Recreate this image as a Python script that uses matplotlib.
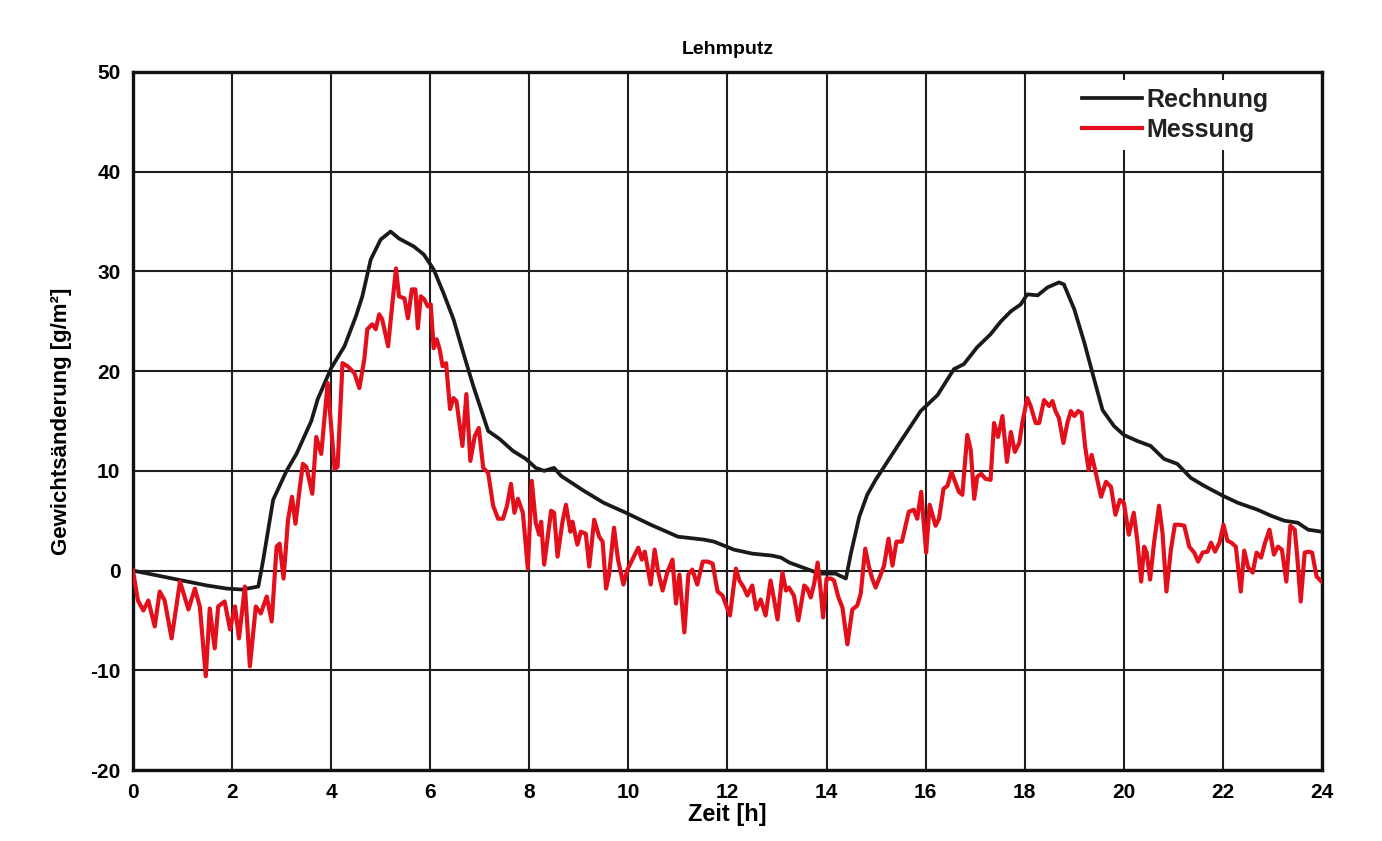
import matplotlib
matplotlib.use('Agg')
import matplotlib.pyplot as plt

plt.rcParams["font.family"] = ["Liberation Sans", "DejaVu Sans"]
plt.rcParams["font.weight"] = "bold"
plt.rcParams["axes.unicode_minus"] = False

# Rechnung (black curve)
calc_t = [0.0, 0.5, 1.0, 1.5, 1.89, 2.2, 2.53, 2.63, 2.83, 3.1, 3.3, 3.6, 3.73, 4.0,
          4.27, 4.5, 4.63, 4.8, 5.0, 5.2, 5.37, 5.67, 5.87, 6.07, 6.27, 6.47, 6.67,
          6.87, 7.07, 7.17, 7.4, 7.67, 7.93, 8.13, 8.3, 8.5, 8.64, 9.1, 9.5, 9.95,
          10.45, 11.0, 11.53, 11.73, 12.13, 12.5, 12.9, 13.08, 13.25, 13.58, 13.85,
          14.18, 14.39, 14.49, 14.66, 14.82, 14.99, 15.5, 15.9, 16.24, 16.57, 16.77,
          17.04, 17.31, 17.52, 17.72, 17.92, 18.05, 18.26, 18.46, 18.69, 18.79, 19.0,
          19.2, 19.4, 19.57, 19.8, 20.0, 20.27, 20.54, 20.81, 21.08, 21.35, 21.62,
          22.0, 22.3, 22.7, 22.97, 23.24, 23.51, 23.72, 23.99]
calc_v = [0.0, -0.5, -1.0, -1.5, -1.8, -1.9, -1.6, 1.1, 7.1, 10.0, 11.7, 15.0, 17.2, 20.3,
          22.5, 25.5, 27.5, 31.2, 33.2, 34.0, 33.3, 32.5, 31.7, 30.2, 27.8, 25.2, 21.8,
          18.5, 15.5, 14.0, 13.2, 12.0, 11.2, 10.3, 10.0, 10.3, 9.5, 8.0, 6.8, 5.8,
          4.6, 3.4, 3.1, 2.9, 2.1, 1.7, 1.5, 1.3, 0.8, 0.2, -0.3,
          -0.3, -0.8, 1.7, 5.4, 7.6, 9.1, 13.0, 16.0, 17.6, 20.2, 20.7,
          22.4, 23.7, 25.0, 26.0, 26.7, 27.7, 27.6, 28.4, 28.9, 28.7, 26.2,
          22.9, 19.2, 16.1, 14.5, 13.6, 13.0, 12.5, 11.2, 10.7, 9.3, 8.5,
          7.5, 6.8, 6.1, 5.5, 5.0, 4.8, 4.1, 3.9]

# Messung (red curve)
meas_t = [0.00, 0.10, 0.21, 0.31, 0.44, 0.54, 0.64, 0.78, 0.95, 1.12, 1.25, 1.35, 1.47,
          1.55, 1.65, 1.72, 1.85, 1.96, 2.06, 2.14, 2.26, 2.36, 2.48, 2.58, 2.70, 2.80,
          2.90, 2.96, 3.04, 3.13, 3.21, 3.28, 3.37, 3.43, 3.50, 3.62, 3.70, 3.80, 3.93,
          4.07, 4.13, 4.23, 4.33, 4.47, 4.57, 4.67, 4.73, 4.83, 4.90, 4.97, 5.03, 5.15,
          5.23, 5.31, 5.37, 5.48, 5.55, 5.63, 5.70, 5.75, 5.81, 5.88, 5.95, 6.01, 6.07,
          6.13, 6.19, 6.25, 6.32, 6.40, 6.47, 6.53, 6.65, 6.73, 6.81, 6.90, 6.98, 7.07,
          7.17, 7.27, 7.37, 7.47, 7.55, 7.63, 7.70, 7.77, 7.87, 7.97, 8.05, 8.13, 8.20,
          8.24, 8.30, 8.44, 8.50, 8.57, 8.67, 8.74, 8.83, 8.87, 8.97, 9.04, 9.14, 9.21,
          9.31, 9.41, 9.48, 9.55, 9.61, 9.71, 9.79, 9.90, 9.98, 10.08, 10.20, 10.27,
          10.33, 10.45, 10.53, 10.60, 10.69, 10.79, 10.89, 10.96, 11.03, 11.13, 11.21,
          11.29, 11.39, 11.50, 11.60, 11.70, 11.80, 11.90, 12.05, 12.17, 12.24, 12.33,
          12.40, 12.50, 12.58, 12.67, 12.77, 12.87, 12.94, 13.01, 13.11, 13.18, 13.24,
          13.34, 13.43, 13.55, 13.61, 13.68, 13.75, 13.82, 13.88, 13.93, 14.00, 14.09,
          14.15, 14.24, 14.32, 14.42, 14.52, 14.62, 14.69, 14.78, 14.86, 14.92, 14.99,
          15.07, 15.16, 15.25, 15.33, 15.41, 15.52, 15.66, 15.76, 15.83, 15.91, 16.01,
          16.08, 16.20, 16.27, 16.36, 16.44, 16.52, 16.61, 16.67, 16.74, 16.84, 16.91,
          16.98, 17.04, 17.12, 17.21, 17.31, 17.38, 17.46, 17.55, 17.64, 17.72, 17.80,
          17.89, 17.95, 18.05, 18.12, 18.22, 18.29, 18.39, 18.49, 18.56, 18.62, 18.69,
          18.78, 18.86, 18.93, 19.00, 19.08, 19.15, 19.22, 19.29, 19.35, 19.42, 19.54,
          19.64, 19.74, 19.83, 19.92, 20.00, 20.10, 20.20, 20.27, 20.35, 20.41, 20.46,
          20.53, 20.61, 20.71, 20.78, 20.86, 20.95, 21.03, 21.12, 21.22, 21.32, 21.42,
          21.50, 21.59, 21.69, 21.76, 21.84, 21.93, 22.01, 22.09, 22.17, 22.26, 22.36,
          22.43, 22.51, 22.60, 22.68, 22.77, 22.85, 22.94, 23.03, 23.11, 23.19, 23.28,
          23.36, 23.45, 23.50, 23.57, 23.65, 23.73, 23.80, 23.89, 23.99]
meas_v = [0.0, -3.0, -4.0, -3.0, -5.6, -2.1, -3.0, -6.8, -1.1, -3.9, -1.8, -3.6, -10.6,
          -3.8, -7.8, -3.6, -3.1, -5.9, -3.6, -6.8, -1.6, -9.6, -3.6, -4.3, -2.6, -5.1,
          2.4, 2.7, -0.8, 5.1, 7.4, 4.7, 8.4, 10.7, 10.4, 7.7, 13.4, 11.7, 18.8,
          10.2, 10.4, 20.8, 20.5, 19.8, 18.3, 21.2, 24.2, 24.7, 24.2, 25.7, 25.2, 22.5,
          26.5, 30.3, 27.5, 27.3, 25.3, 28.2, 28.2, 24.3, 27.5, 27.2, 26.5, 26.7, 22.3,
          23.2, 22.2, 20.5, 20.8, 16.2, 17.3, 17.0, 12.5, 17.7, 11.0, 13.5, 14.3, 10.3,
          9.8, 6.5, 5.2, 5.2, 6.5, 8.7, 5.8, 7.2, 5.8, 0.2, 9.0, 4.8, 3.6,
          4.9, 0.6, 6.0, 5.8, 1.4, 4.9, 6.6, 3.9, 4.9, 2.6, 3.9, 3.7, 0.4,
          5.1, 3.4, 2.9, -1.8, -0.4, 4.3, 1.1, -1.4, 0.1, 1.1, 2.3, 1.1,
          1.9, -1.4, 2.1, -0.1, -2.0, -0.1, 1.1, -3.3, -0.4, -6.2, -0.4,
          0.1, -1.4, 0.9, 0.9, 0.7, -2.1, -2.5, -4.5, 0.2, -1.0, -1.7,
          -2.5, -1.5, -3.9, -2.9, -4.5, -1.0, -2.9, -4.9, -0.2, -2.0, -1.7,
          -2.5, -5.0, -1.5, -1.8, -2.7, -1.3, 0.8, -2.0, -4.7, -0.8, -0.8,
          -1.0, -2.7, -3.7, -7.4, -3.9, -3.5, -2.3, 2.2, 0.3, -0.8, -1.7,
          -0.7, 0.5, 3.2, 0.5, 2.9, 2.9, 5.9, 6.1, 5.2, 7.9, 1.8,
          6.6, 4.5, 5.2, 8.2, 8.5, 9.9, 8.7, 7.9, 7.6, 13.6, 12.1,
          7.2, 9.4, 9.7, 9.2, 9.1, 14.8, 13.4, 15.5, 10.9, 13.9, 11.9,
          12.8, 14.8, 17.3, 16.5, 14.8, 14.8, 17.1, 16.5, 17.0, 16.0, 15.3,
          12.8, 14.8, 16.0, 15.5, 16.0, 15.8, 12.4, 10.1, 11.6, 10.1, 7.4,
          8.9, 8.4, 5.6, 7.1, 6.8, 3.6, 5.8, 3.1, -1.1, 2.4, 1.8,
          -0.9, 2.8, 6.5, 3.8, -2.1, 2.1, 4.6, 4.6, 4.5, 2.4, 1.8,
          0.9, 1.8, 1.9, 2.8, 1.9, 2.8, 4.6, 3.0, 2.8, 2.4, -2.1,
          2.0, 0.3, -0.2, 1.8, 1.3, 2.8, 4.1, 1.6, 2.4, 2.1, -1.1,
          4.5, 4.1, 1.4, -3.1, 1.8, 1.9, 1.8, -0.6, -1.1]

x_ticks = list(range(0, 25, 2))
y_ticks = list(range(-20, 51, 10))

fig = plt.figure(figsize=(13.82, 8.41), dpi=100)
ax = fig.add_axes([0.0962, 0.0844, 0.8604, 0.83])

ax.plot(calc_t, calc_v, color="#1a1a1a", lw=2.7, label="Rechnung", zorder=3)
ax.plot(meas_t, meas_v, color="#e3101c", lw=3.0, label="Messung", zorder=4)

ax.set_xlim(0, 24)
ax.set_ylim(-20, 50)
ax.set_xticks(x_ticks)
ax.set_yticks(y_ticks)
ax.tick_params(length=0, labelsize=15, pad=9)
for lab in ax.get_xticklabels() + ax.get_yticklabels():
    lab.set_fontweight("bold")

ax.grid(True, color="#1e1e1e", lw=1.5)
ax.set_axisbelow(True)
for sp in ax.spines.values():
    sp.set_linewidth(2.4)
    sp.set_color("#111111")

ax.set_title("Lehmputz", fontsize=14, fontweight="bold", pad=13)
ax.set_xlabel("Zeit [h]", fontsize=17, fontweight="bold", labelpad=1)
ax.set_ylabel("Gewichtsänderung [g/m²]", fontsize=16, fontweight="bold", labelpad=13)

leg = ax.legend(loc="upper right", bbox_to_anchor=(0.972, 1.006), fontsize=18,
                frameon=True, facecolor="white", edgecolor="none", framealpha=1,
                fancybox=False, handlelength=2.4, handletextpad=0.2,
                labelspacing=0.25, borderpad=0.3)
for txt in leg.get_texts():
    txt.set_fontweight("bold")
    txt.set_color("#222222")

fig.savefig("out.png", dpi=100)
